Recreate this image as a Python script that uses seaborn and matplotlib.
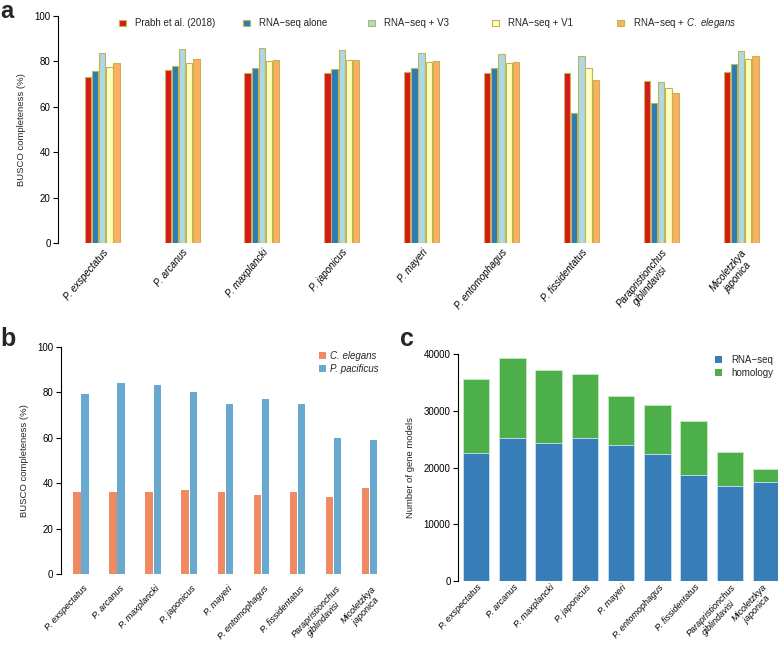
import numpy as np
import pandas as pd
import matplotlib
matplotlib.use("Agg")
import matplotlib.pyplot as plt
import matplotlib.transforms as mtrans
from matplotlib.patches import Patch
import seaborn as sns

# ---------------- data ----------------
species = ["P. exspectatus", "P. arcanus", "P. maxplancki", "P. japonicus", "P. mayeri",
           "P. entomophagus", "P. fissidentatus", "Parapristionchus\ngiblindavisi",
           "Micoletzkya\njaponica"]

series_a = ["Prabh et al. (2018)", "RNA−seq alone", "RNA−seq + V3", "RNA−seq + V1",
            "RNA−seq + $\\it{C.\\ elegans}$"]
prabh = [73.0, 76.0, 74.7, 75.0, 75.3, 74.7, 75.0, 71.4, 75.1]
rnaseq_alone = [75.6, 77.8, 76.9, 76.7, 76.9, 76.9, 57.1, 61.5, 78.8]
rnaseq_v3 = [83.5, 85.2, 85.8, 85.1, 83.6, 83.0, 82.3, 71.0, 84.4]
rnaseq_v1 = [77.3, 79.1, 80.1, 80.4, 79.5, 79.1, 76.9, 68.1, 80.8]
rnaseq_ce = [79.4, 81.1, 80.7, 80.4, 80.0, 79.5, 71.6, 65.9, 82.3]

series_b = ["C. elegans", "P. pacificus"]
busco_c_elegans = [36, 36, 36, 37, 36, 35, 36, 34, 38]
busco_p_pacificus = [79, 84, 83, 80, 75, 77, 75, 60, 59]

series_c = ["RNA−seq", "homology"]
models_rnaseq = [22600, 25300, 24400, 25200, 24000, 22300, 18600, 16700, 17400]
models_homology = [13000, 14000, 12900, 11400, 8600, 8700, 9600, 6000, 2300]

# ---------------- style ----------------
sns.set_theme(style="ticks")
plt.rcParams["font.family"] = ["Liberation Sans", "DejaVu Sans"]
plt.rcParams["mathtext.fontset"] = "custom"
plt.rcParams["mathtext.it"] = "Liberation Sans:italic"
plt.rcParams["mathtext.rm"] = "Liberation Sans"
plt.rcParams["axes.linewidth"] = 0.8

colors_a = ["#d7191c", "#2c7bb6", "#abd9e9", "#ffffbf", "#fdae61"]
colors_b = ["#ef8a62", "#67a9cf"]
colors_c = ["#377eb8", "#4daf4a"]
edge_a = "#c2b450"

W, H = 778, 645
fig = plt.figure(figsize=(W / 100, H / 100), dpi=100)


def px_axes(left, top, right, bottom):
    return fig.add_axes([left / W, 1 - bottom / H, (right - left) / W, (bottom - top) / H])


def style_axis(ax, ymax, ylabel):
    for s in ["top", "right", "bottom"]:
        ax.spines[s].set_visible(False)
    ax.spines["left"].set_bounds(0, ymax)
    ax.spines["left"].set_color("black")
    ax.tick_params(axis="y", length=3.6, width=0.8, labelsize=7, pad=2, colors="black")
    ax.tick_params(axis="x", length=0, labelsize=7, colors="black")
    ax.set_ylabel(ylabel, fontsize=6.8, labelpad=6)
    ax.set_xlabel("")
    ax.set_facecolor("none")


def set_labels(ax, rot, pad, size, dx_px=0.0, last_dx=None):
    ax.set_xticks(range(len(species)))
    ax.set_xticklabels(species)
    ax.tick_params(axis="x", pad=pad)
    labels = ax.get_xticklabels()
    for i, lab in enumerate(labels):
        lab.set_rotation(rot)
        lab.set_ha("right")
        lab.set_va("top")
        lab.set_rotation_mode("anchor")
        lab.set_multialignment("center")
        lab.set_fontstyle("italic")
        lab.set_fontsize(size)
        d = last_dx if (last_dx is not None and i == len(labels) - 1) else dx_px
        if d:
            off = mtrans.ScaledTranslation(d / 100, 0, fig.dpi_scale_trans)
            lab.set_transform(lab.get_transform() + off)


# ---------------- panel a ----------------
axa = px_axes(58.3, 15.7, 777, 243.3)
dfa = pd.DataFrame({
    "species": species * 5,
    "series": np.repeat(series_a, len(species)),
    "value": prabh + rnaseq_alone + rnaseq_v3 + rnaseq_v1 + rnaseq_ce,
})
sns.barplot(data=dfa, x="species", y="value", hue="series", order=species,
            hue_order=series_a, palette=colors_a, saturation=1, width=0.45, gap=0.12,
            edgecolor=edge_a, linewidth=0.8, legend=False, ax=axa)
axa.set_xlim(-0.55, 8.45)
axa.set_ylim(0, 100)
axa.set_yticks([0, 20, 40, 60, 80, 100])
style_axis(axa, 100, "BUSCO completeness (%)")
set_labels(axa, 50, 3, 7)

# legend a: equally spaced entries
for i, (lab, col) in enumerate(zip(series_a, colors_a)):
    x = 118.7 + 124.5 * i
    fig.legend(handles=[Patch(facecolor=col, edgecolor=edge_a, linewidth=0.8)],
               labels=[lab], loc="center left",
               bbox_to_anchor=(x / W, 1 - 23.3 / H), frameon=False,
               fontsize=7, handlelength=0.72, handleheight=0.6,
               handletextpad=0.95, borderpad=0, borderaxespad=0)

# ---------------- panel b ----------------
axb = px_axes(61, 346.7, 387.5, 574.3)
dfb = pd.DataFrame({
    "species": species * 2,
    "series": np.repeat(series_b, len(species)),
    "value": busco_c_elegans + busco_p_pacificus,
})
sns.barplot(data=dfb, x="species", y="value", hue="series", order=species,
            hue_order=series_b, palette=colors_b, saturation=1, width=0.45, gap=0.1,
            edgecolor="none", linewidth=0, legend=False, ax=axb)
axb.set_xlim(-0.554, 8.5)
axb.set_ylim(0, 100)
axb.set_yticks([0, 20, 40, 60, 80, 100])
style_axis(axb, 100, "BUSCO completeness (%)")
set_labels(axb, 47, 7, 6.5, dx_px=2)
axb.legend(handles=[Patch(facecolor=c, edgecolor="none") for c in colors_b],
           labels=series_b, loc="upper left", bbox_to_anchor=(319 / W, 1 - 351 / H),
           bbox_transform=fig.transFigure, frameon=False,
           prop={"size": 7, "style": "italic"}, handlelength=0.72, handleheight=0.6,
           handletextpad=0.45, borderpad=0, borderaxespad=0, labelspacing=0.3)

# ---------------- panel c ----------------
axc = px_axes(458.3, 354.3, 778, 580.7)
totals = [r + h for r, h in zip(models_rnaseq, models_homology)]
sns.barplot(x=species, y=totals, order=species, color=colors_c[1], saturation=1,
            width=0.73, edgecolor="#c8ebc0", linewidth=0.6, ax=axc)
sns.barplot(x=species, y=models_rnaseq, order=species, color=colors_c[0], saturation=1,
            width=0.73, edgecolor="#cfe6f5", linewidth=0.6, ax=axc)
axc.set_xlim(-0.49, 8.33)
axc.set_ylim(0, 40000)
axc.set_yticks([0, 10000, 20000, 30000, 40000])
axc.set_yticklabels(["0", "10000", "20000", "30000", "40000"])
style_axis(axc, 40000, "Number of gene models")
set_labels(axc, 47, 1.5, 6.5, dx_px=1, last_dx=-4)
axc.legend(handles=[Patch(facecolor=c, edgecolor="none") for c in colors_c],
           labels=series_c, loc="upper left", bbox_to_anchor=(715 / W, 1 - 355 / H),
           bbox_transform=fig.transFigure, frameon=False,
           prop={"size": 7}, handlelength=0.72, handleheight=0.6,
           handletextpad=0.95, borderpad=0, borderaxespad=0, labelspacing=0.3)

# panel letters
fig.text(0 / W, 1.0, "a", fontsize=17, fontweight="bold", va="top", ha="left")
fig.text(0 / W, 1 - 346 / H, "b", fontsize=18, fontweight="bold", va="baseline", ha="left")
fig.text(400 / W, 1 - 346 / H, "c", fontsize=18, fontweight="bold", va="baseline", ha="left")

fig.savefig("out.png", dpi=100)
